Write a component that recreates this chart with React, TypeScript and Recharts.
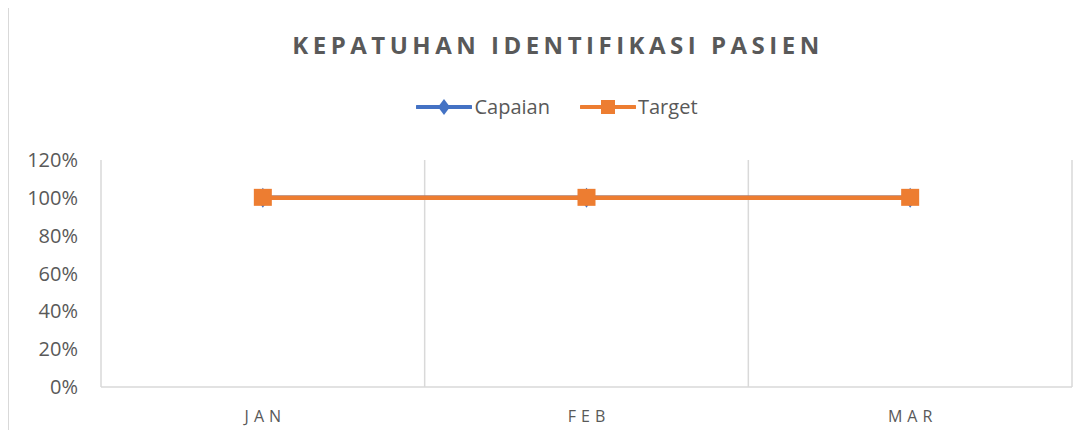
import React from 'react';
import { LineChart, Line, XAxis, YAxis, CartesianGrid, Legend } from 'recharts';

const months = ['JAN', 'FEB', 'MAR'];
const capaian = [1, 1, 1];
const target = [1, 1, 1];
const yTicks = [0, 0.2, 0.4, 0.6, 0.8, 1, 1.2];

const BLUE = '#4472C4';
const ORANGE = '#ED7D31';
const TEXT = '#595959';
const GRID = '#D9D9D9';
const FONT = '"Open Sans", sans-serif';

const chartData = months.map((m, i) => ({
  month: m,
  capaian: capaian[i],
  target: target[i],
}));

const DiamondDot = (props: any) => {
  const { cx, cy } = props;
  if (cx == null || cy == null) return null;
  return <path d={`M${cx},${cy - 10} L${cx + 7},${cy} L${cx},${cy + 10} L${cx - 7},${cy} Z`} fill={BLUE} />;
};

const SquareDot = (props: any) => {
  const { cx, cy } = props;
  if (cx == null || cy == null) return null;
  return <rect x={cx - 9} y={cy - 9} width={18} height={17} fill={ORANGE} />;
};

const MonthTick = ({ x, y, payload }: any) => (
  <text
    x={x + 2.5}
    y={y}
    dy={27}
    textAnchor="middle"
    fill={TEXT}
    style={{ fontFamily: FONT, fontSize: 16, letterSpacing: 5 }}
  >
    {payload.value}
  </text>
);

const LegendContent = () => {
  const items = [
    { name: 'Capaian', color: BLUE, marker: 'diamond' },
    { name: 'Target', color: ORANGE, marker: 'square' },
  ];
  return (
    <div style={{ display: 'flex', justifyContent: 'center', gap: 30, fontFamily: FONT, fontSize: 20, color: TEXT, paddingLeft: 22 }}>
      {items.map((it) => (
        <div key={it.name} style={{ display: 'flex', alignItems: 'center' }}>
          <svg width={56} height={20} style={{ marginRight: 2 }}>
            <line x1={1} y1={10} x2={55} y2={10} stroke={it.color} strokeWidth={4} strokeLinecap="round" />
            {it.marker === 'diamond' ? (
              <path d="M28,2 L34,10 L28,18 L22,10 Z" fill={it.color} />
            ) : (
              <rect x={21} y={3} width={14} height={14} fill={it.color} />
            )}
          </svg>
          <span>{it.name}</span>
        </div>
      ))}
    </div>
  );
};

const App: React.FC = () => {
  return (
    <div style={{ position: 'relative', width: 1092, height: 438, margin: -8, background: '#fff', overflow: 'hidden' }}>
      <div
        style={{
          position: 'absolute',
          left: 7,
          top: 5,
          width: 1100,
          height: 450,
          borderTop: `2px solid ${GRID}`,
          borderLeft: `2px solid ${GRID}`,
        }}
      />
      <div
        style={{
          position: 'absolute',
          top: 28,
          left: 0,
          width: 1092,
          textAlign: 'center',
          fontFamily: FONT,
          fontWeight: 700,
          fontSize: 24,
          letterSpacing: 4.5,
          color: TEXT,
          paddingLeft: 24,
          boxSizing: 'border-box',
        }}
      >
        KEPATUHAN IDENTIFIKASI PASIEN
      </div>
      <div style={{ position: 'absolute', left: 0, top: 0 }}>
        <LineChart width={1092} height={438} data={chartData} margin={{ top: 160, right: 20, bottom: 0, left: 0 }}>
          <CartesianGrid
            horizontal={false}
            stroke={GRID}
            strokeWidth={1.5}
            verticalCoordinatesGenerator={({ offset }: any) =>
              [0, 1, 2, 3].map((i) => offset.left + (offset.width * i) / months.length)
            }
          />
          <XAxis
            dataKey="month"
            scale="band"
            tickLine={false}
            axisLine={{ stroke: GRID, strokeWidth: 1.5 }}
            tick={<MonthTick />}
            height={51}
          />
          <YAxis
            width={101}
            domain={[0, 1.2]}
            ticks={yTicks}
            interval={0}
            axisLine={false}
            tickLine={false}
            tickSize={0}
            tickMargin={23}
            tickFormatter={(v) => `${Math.round(v * 100)}%`}
            tick={{ fill: TEXT, fontSize: 20, fontFamily: FONT }}
          />
          <Legend
            layout="horizontal"
            verticalAlign="middle"
            align="center"
            content={<LegendContent />}
            wrapperStyle={{ position: 'absolute', top: 93, left: 0, width: 1092 }}
          />
          <Line
            type="linear"
            dataKey="capaian"
            name="Capaian"
            stroke={BLUE}
            strokeWidth={4.5}
            dot={<DiamondDot />}
            activeDot={false}
            isAnimationActive={false}
          />
          <Line
            type="linear"
            dataKey="target"
            name="Target"
            stroke={ORANGE}
            strokeWidth={4.5}
            dot={<SquareDot />}
            activeDot={false}
            isAnimationActive={false}
          />
        </LineChart>
      </div>
    </div>
  );
};

export default App;
